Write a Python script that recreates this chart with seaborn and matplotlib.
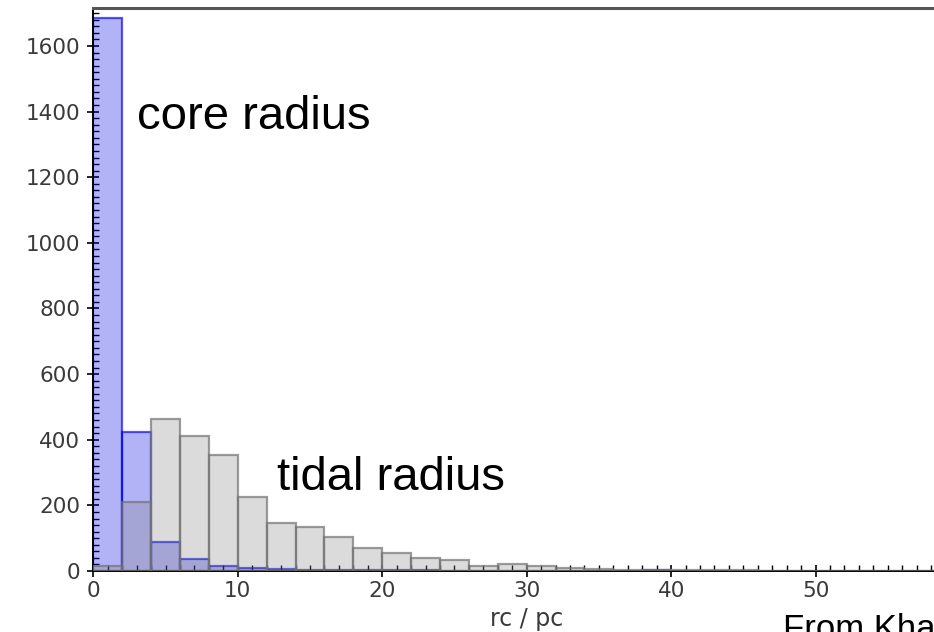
import numpy as np
import pandas as pd
import matplotlib
matplotlib.use("Agg")
import matplotlib.pyplot as plt
from matplotlib.ticker import MultipleLocator
import seaborn as sns

# bin edges (pc) and counts
bin_edges = list(range(0, 62, 2))
core_counts = [1685, 425, 88, 38, 15, 8, 5, 4, 3, 4,
               2, 2, 1, 1, 1, 1, 1, 1, 1, 4,
               1, 1, 0, 0, 0, 0, 0, 0, 0, 0]
tidal_counts = [15, 210, 462, 410, 355, 225, 145, 135, 105, 70,
                55, 40, 35, 15, 20, 15, 8, 5, 3, 3,
                2, 2, 2, 1, 0, 1, 1, 1, 1, 1]
x_ticks = [0, 10, 20, 30, 40, 50]
y_ticks = [0, 200, 400, 600, 800, 1000, 1200, 1400, 1600]

sns.set_style("ticks")
plt.rcParams["font.family"] = ["DejaVu Sans"]

centers = [(a + b) / 2 for a, b in zip(bin_edges[:-1], bin_edges[1:])]
df_core = pd.DataFrame({"r": centers, "n": core_counts})
df_tidal = pd.DataFrame({"r": centers, "n": tidal_counts})

fig = plt.figure(figsize=(9.34, 6.32), dpi=100)
ax = fig.add_axes([0.0999, 0.0965, 0.928, 0.8905])

sns.histplot(data=df_core, x="r", weights="n", bins=bin_edges, ax=ax,
             facecolor=(0.0, 0.0, 0.9, 0.3), edgecolor=(0.0, 0.0, 0.9, 0.65),
             linewidth=1.6, zorder=2)
sns.histplot(data=df_tidal, x="r", weights="n", bins=bin_edges, ax=ax,
             facecolor=(0.5, 0.5, 0.5, 0.28), edgecolor=(0.45, 0.45, 0.45, 0.7),
             linewidth=1.6, zorder=3)

ax.set_xlim(0, 60)
ax.set_ylim(0, 1715)
ax.set_xticks(x_ticks)
ax.set_yticks(y_ticks)
ax.xaxis.set_minor_locator(MultipleLocator(1))
ax.yaxis.set_minor_locator(MultipleLocator(20))
ax.tick_params(axis="both", which="major", direction="inout", length=9,
               width=1.2, color="black", labelsize=15.5, labelcolor="#3a3a3a")
ax.tick_params(axis="both", which="minor", direction="in", length=4.5,
               width=1.0, color="black")
ax.tick_params(axis="y", which="major", pad=5)
ax.tick_params(axis="x", which="major", pad=3)

ax.set_xlabel("rc / pc", fontsize=17, color="#3a3a3a", labelpad=4)
ax.set_ylabel("")

for side in ["left", "bottom"]:
    ax.spines[side].set_color("black")
    ax.spines[side].set_linewidth(1.4)
ax.spines["top"].set_visible(True)
ax.spines["top"].set_color("#555555")
ax.spines["top"].set_linewidth(2.2)
ax.spines["right"].set_visible(True)

ax.text(3.0, 1348, "core radius", fontsize=34, family="Liberation Sans",
        color="black", va="baseline", ha="left", zorder=5)
ax.text(12.7, 246, "tidal radius", fontsize=34, family="Liberation Sans",
        color="black", va="baseline", ha="left", zorder=5)
fig.text(783 / 934, -7 / 632, "From Kharchenko et al.", fontsize=25,
         family="Liberation Sans", color="black", va="baseline", ha="left")

fig.savefig("out.png", dpi=100)
